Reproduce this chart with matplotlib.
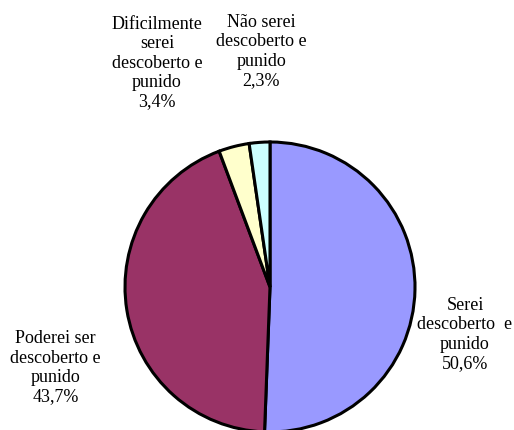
import matplotlib.pyplot as plt

plt.rcParams['font.family'] = ['Liberation Serif', 'DejaVu Serif']

labels = ['Serei\ndescoberto  e\npunido', 'Poderei ser\ndescoberto e\npunido',
          'Dificilmente\nserei\ndescoberto e\npunido', 'Não serei\ndescoberto e\npunido']
values = [50.6, 43.7, 3.4, 2.3]
colors = ['#9999FF', '#993366', '#FFFFCC', '#CCFFFF']

# label anchor points, in pie radius units
label_pos = [(1.345, -0.32), (-1.48, -0.55), (-0.78, 1.55), (-0.06, 1.63)]

fig = plt.figure(figsize=(5.14, 4.31), dpi=100)
ax = fig.add_axes([0, 0, 1, 1])

ax.pie(values, colors=colors, startangle=90, counterclock=False,
       wedgeprops=dict(edgecolor='black', linewidth=2.2))

for lab, v, (x, y) in zip(labels, values, label_pos):
    txt = f"{lab}\n{v:.1f}%".replace('.', ',')
    ax.text(x, y, txt, ha='center', va='center', multialignment='center',
            fontsize=13, linespacing=1.18)

ax.set_xlim(-270 / 145, (514 - 270) / 145)
ax.set_ylim(-(431 - 288) / 145, 288 / 145)
ax.set_aspect('equal')
ax.axis('off')

fig.savefig('out.png', dpi=100)
